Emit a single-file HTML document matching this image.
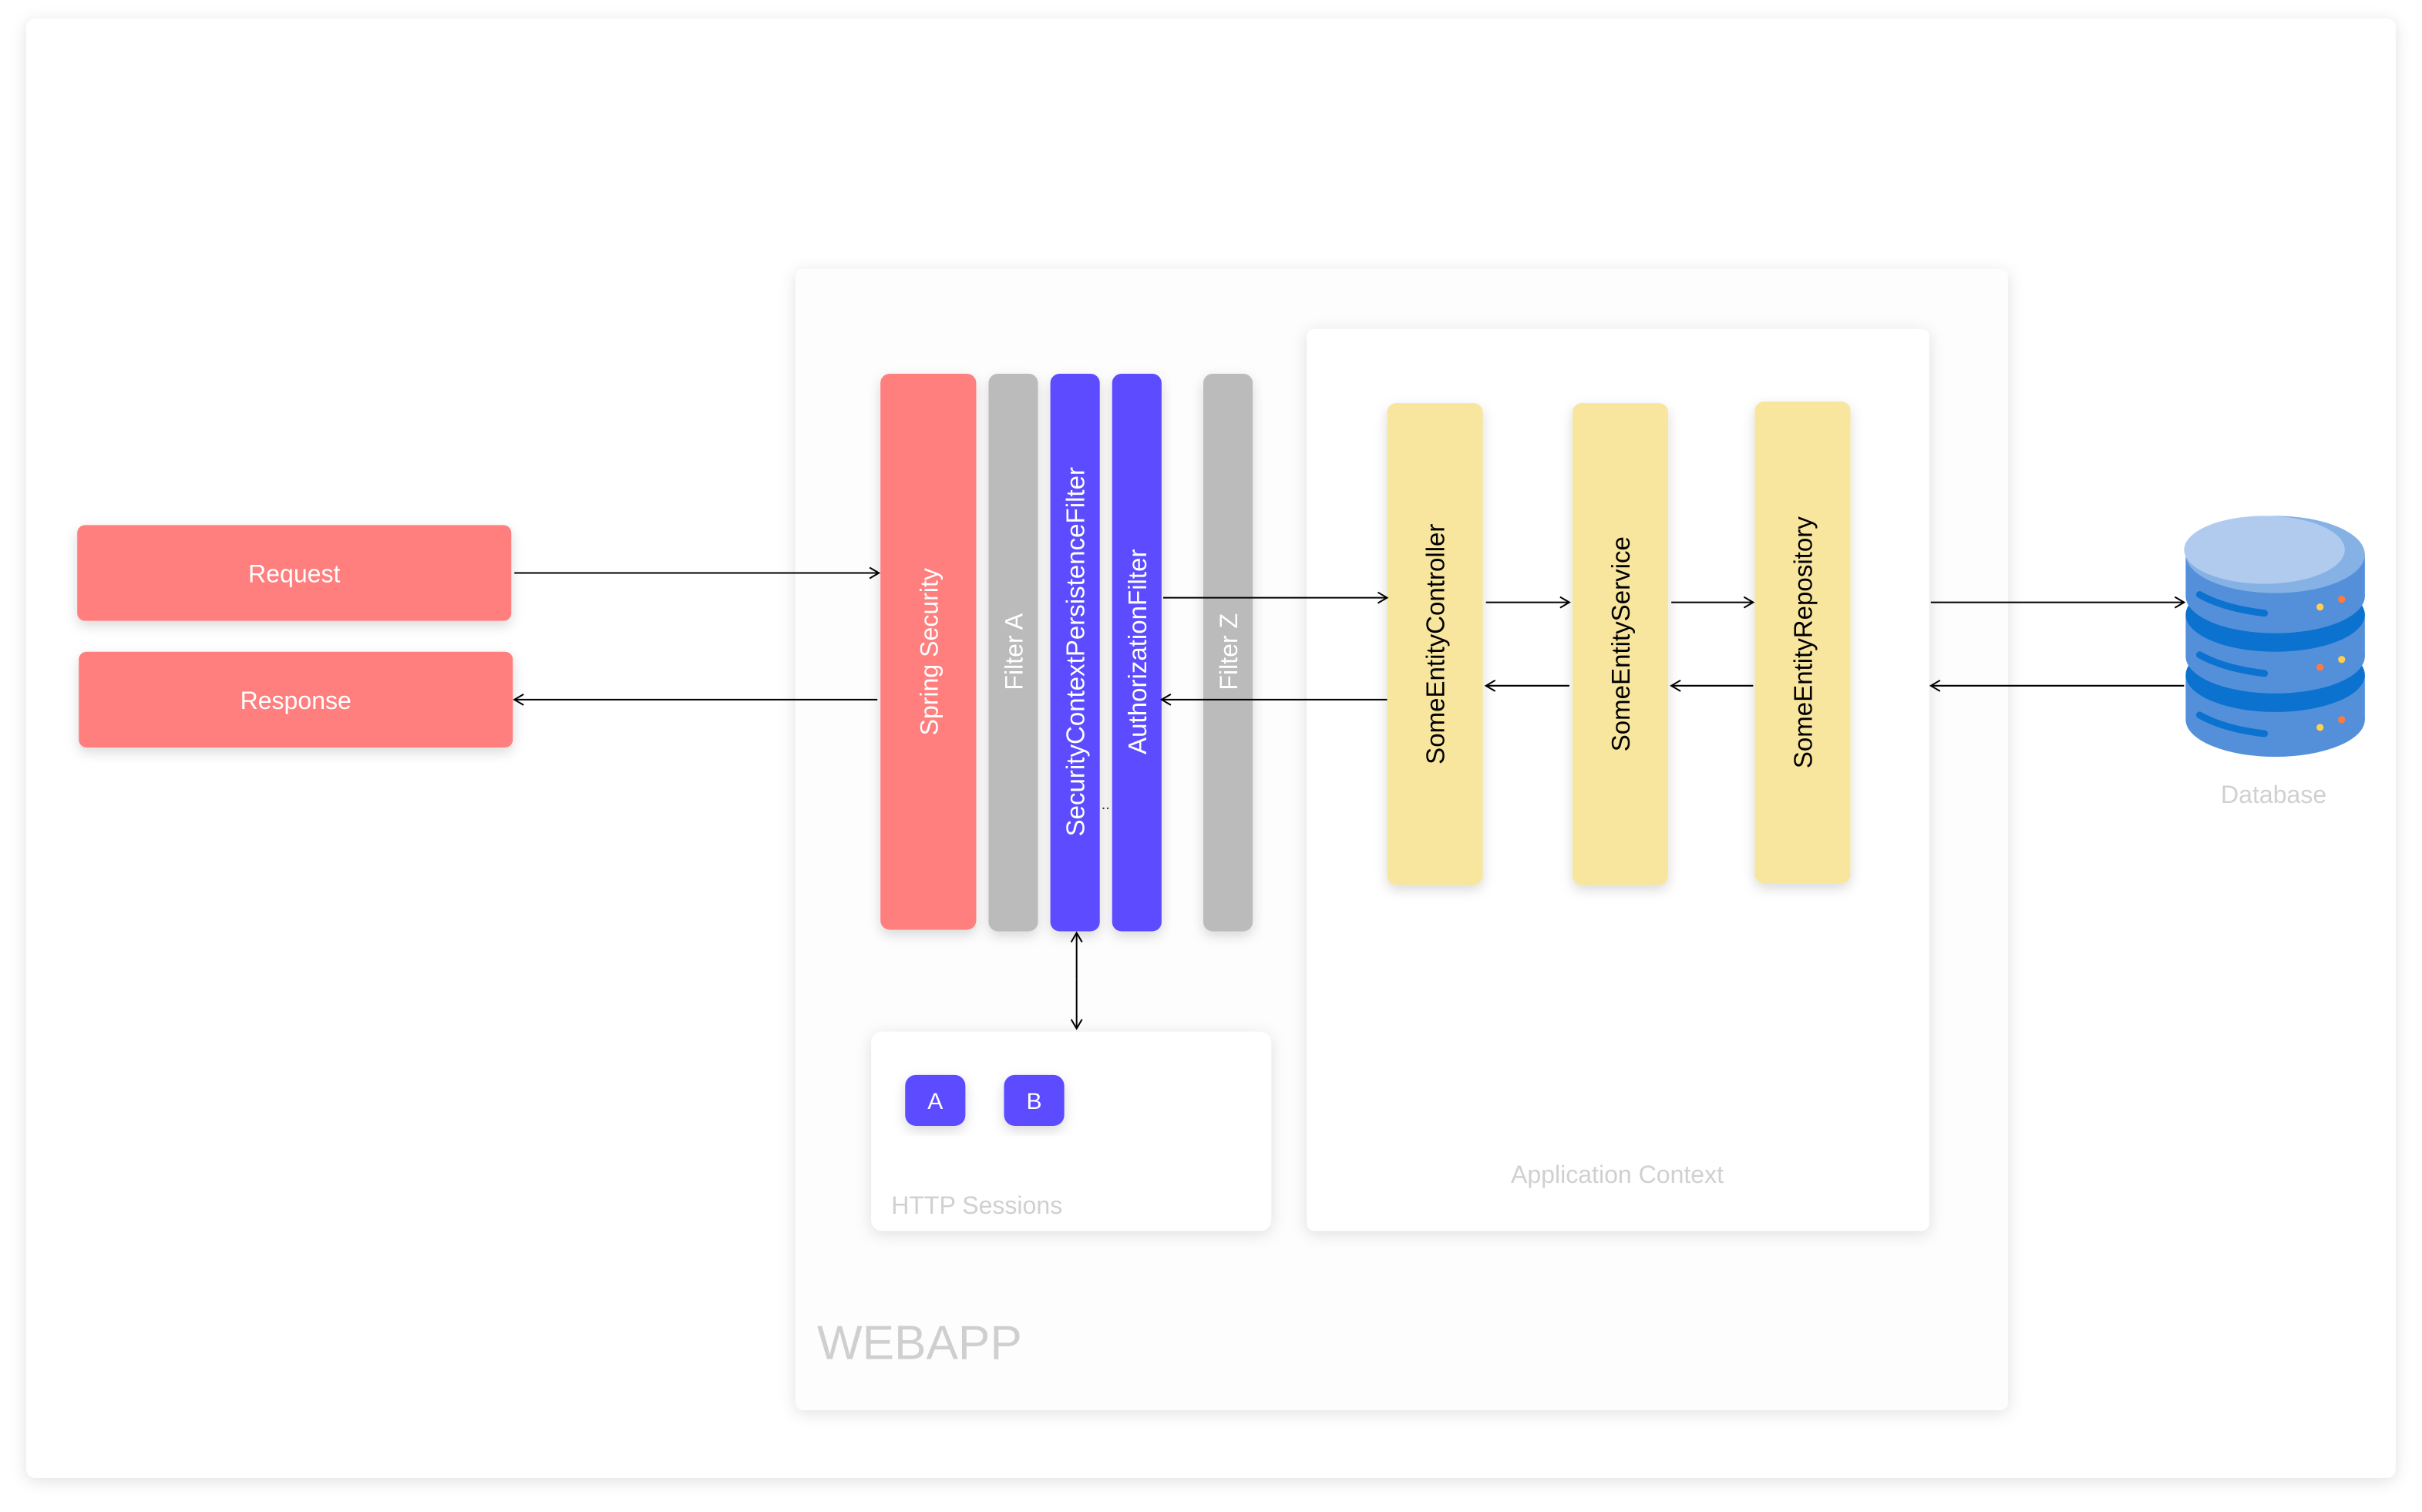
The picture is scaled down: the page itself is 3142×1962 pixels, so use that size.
<!DOCTYPE html>
<html><head><meta charset="utf-8"><style>
html,body{margin:0;padding:0;background:#fff;}
svg{display:block;font-family:"Liberation Sans",sans-serif;}
</style></head><body>
<svg width="3142" height="1962" viewBox="0 0 1568 979" preserveAspectRatio="none">
<defs>
<filter id="sh" x="-20%" y="-20%" width="140%" height="140%"><feDropShadow dx="0" dy="3" stdDeviation="4" flood-color="#000" flood-opacity="0.15"/></filter>
<filter id="sh2" x="-10%" y="-10%" width="120%" height="120%"><feDropShadow dx="0" dy="2" stdDeviation="5" flood-color="#000" flood-opacity="0.12"/></filter>
<marker id="ar" markerWidth="8" markerHeight="8" refX="7" refY="4" orient="auto" markerUnits="userSpaceOnUse"><path d="M1,0.5 L7,4 L1,7.5" fill="none" stroke="#000" stroke-width="1"/></marker>
</defs>
<rect x="0" y="0" width="1568" height="979" fill="#fff"/>
<rect x="17" y="12" width="1534" height="945" rx="6" fill="#fff" filter="url(#sh2)"/>

<g>
<rect x="50" y="340" width="281" height="62" rx="5" fill="#FF7F7F" filter="url(#sh)"/>
<text x="190.5" y="377" text-anchor="middle" font-size="16" fill="#fff">Request</text></g>
<g>
<rect x="51" y="422" width="281" height="62" rx="5" fill="#FF7F7F" filter="url(#sh)"/>
<text x="191.5" y="459" text-anchor="middle" font-size="16" fill="#fff">Response</text></g>

<g>
<rect x="515" y="174" width="785" height="739" rx="5" fill="#fdfdfd" filter="url(#sh2)"/>
<text x="529" y="880" font-size="31" fill="#cfcfcf">WEBAPP</text></g>

<g>
<rect x="846" y="213" width="403" height="584" rx="5" fill="#fff" filter="url(#sh2)"/>
<text x="1047" y="766" text-anchor="middle" font-size="16" fill="#d0d0d0">Application Context</text></g>

<g>
<rect x="564" y="668" width="259" height="129" rx="7" fill="#fff" filter="url(#sh2)"/>
<text x="577" y="786" font-size="16" fill="#d0d0d0">HTTP Sessions</text>
<g><rect x="586" y="696" width="39" height="33" rx="7" fill="#5B4CFF" filter="url(#sh)"/>
<text x="605.5" y="718" text-anchor="middle" font-size="15" fill="#fff">A</text></g>
<g><rect x="650" y="696" width="39" height="33" rx="7" fill="#5B4CFF" filter="url(#sh)"/>
<text x="669.5" y="718" text-anchor="middle" font-size="15" fill="#fff">B</text></g>
</g>

<g><rect x="570" y="242" width="62" height="360" rx="6" fill="#FF7F7F" filter="url(#sh)"/>
<text transform="translate(607,422) rotate(-90)" text-anchor="middle" font-size="16" fill="#fff">Spring Security</text></g>
<g><rect x="640" y="242" width="32" height="361" rx="6" fill="#bbbbbb" filter="url(#sh)"/>
<text transform="translate(662,422) rotate(-90)" text-anchor="middle" font-size="16" fill="#fff">Filter A</text></g>
<g><rect x="680" y="242" width="32" height="361" rx="6" fill="#5B4CFF" filter="url(#sh)"/>
<text transform="translate(702,422) rotate(-90)" text-anchor="middle" font-size="16.5" fill="#fff">SecurityContextPersistenceFilter</text></g>
<g><rect x="720" y="242" width="32" height="361" rx="6" fill="#5B4CFF" filter="url(#sh)"/>
<text transform="translate(742,422) rotate(-90)" text-anchor="middle" font-size="16.5" fill="#fff">AuthorizationFilter</text></g>
<text x="713" y="524" font-size="10" fill="#333">..</text>
<g><rect x="779" y="242" width="32" height="361" rx="6" fill="#bbbbbb" filter="url(#sh)"/>
<text transform="translate(801,422) rotate(-90)" text-anchor="middle" font-size="16" fill="#fff">Filter Z</text></g>

<g><rect x="898" y="261" width="62" height="312" rx="6" fill="#F8E69E" filter="url(#sh)"/>
<text transform="translate(935,417) rotate(-90)" text-anchor="middle" font-size="16.5" fill="#000">SomeEntityController</text></g>
<g><rect x="1018" y="261" width="62" height="312" rx="6" fill="#F8E69E" filter="url(#sh)"/>
<text transform="translate(1055,417) rotate(-90)" text-anchor="middle" font-size="16.5" fill="#000">SomeEntityService</text></g>
<g><rect x="1136" y="260" width="62" height="312" rx="6" fill="#F8E69E" filter="url(#sh)"/>
<text transform="translate(1173,416) rotate(-90)" text-anchor="middle" font-size="16.5" fill="#000">SomeEntityRepository</text></g>

<g>
<rect x="1415" y="437" width="116" height="29" fill="#5490DA"/>
<ellipse cx="1473" cy="466" rx="58" ry="24" fill="#5490DA"/>
<ellipse cx="1473" cy="437" rx="58" ry="24" fill="#0B72CF"/>
<rect x="1415" y="398" width="116" height="27" fill="#5490DA"/>
<ellipse cx="1473" cy="425" rx="58" ry="24" fill="#5490DA"/>
<ellipse cx="1473" cy="398" rx="58" ry="24" fill="#0B72CF"/>
<rect x="1415" y="359" width="116" height="27" fill="#5490DA"/>
<ellipse cx="1473" cy="386" rx="58" ry="24" fill="#5490DA"/>
<ellipse cx="1473" cy="359" rx="58" ry="25" fill="#86B1E4"/>
<ellipse cx="1466" cy="356" rx="52" ry="22" fill="#B0CBEE"/>
<g stroke="#0B72CF" stroke-width="4.5" stroke-linecap="round" fill="none">
<path d="M1424,385 Q1440,394 1466,397"/><path d="M1424,424 Q1440,433 1466,436"/><path d="M1424,463 Q1440,472 1466,475"/></g>
<circle cx="1502" cy="393" r="2.3" fill="#FFD04F"/><circle cx="1516" cy="388" r="2.3" fill="#FF7A3D"/>
<circle cx="1502" cy="432" r="2.3" fill="#FF7A3D"/><circle cx="1516" cy="427" r="2.3" fill="#FFD04F"/>
<circle cx="1502" cy="471" r="2.3" fill="#FFD04F"/><circle cx="1516" cy="466" r="2.3" fill="#FF7A3D"/>
<text x="1472" y="520" text-anchor="middle" font-size="16" fill="#d0d0d0">Database</text></g>

<g stroke="#000" stroke-width="1" fill="none">
<line x1="333" y1="371" x2="569" y2="371" marker-end="url(#ar)"/>
<line x1="568" y1="453" x2="333" y2="453" marker-end="url(#ar)"/>
<line x1="753" y1="387" x2="898" y2="387" marker-end="url(#ar)"/>
<line x1="898" y1="453" x2="752" y2="453" marker-end="url(#ar)"/>
<line x1="962" y1="390" x2="1016" y2="390" marker-end="url(#ar)"/>
<line x1="1016" y1="444" x2="962" y2="444" marker-end="url(#ar)"/>
<line x1="1082" y1="390" x2="1135" y2="390" marker-end="url(#ar)"/>
<line x1="1135" y1="444" x2="1082" y2="444" marker-end="url(#ar)"/>
<line x1="1250" y1="390" x2="1414" y2="390" marker-end="url(#ar)"/>
<line x1="1414" y1="444" x2="1250" y2="444" marker-end="url(#ar)"/>
<line x1="697" y1="634" x2="697" y2="604" marker-end="url(#ar)"/>
<line x1="697" y1="634" x2="697" y2="666" marker-end="url(#ar)"/>
</g>
</svg>
</body></html>
